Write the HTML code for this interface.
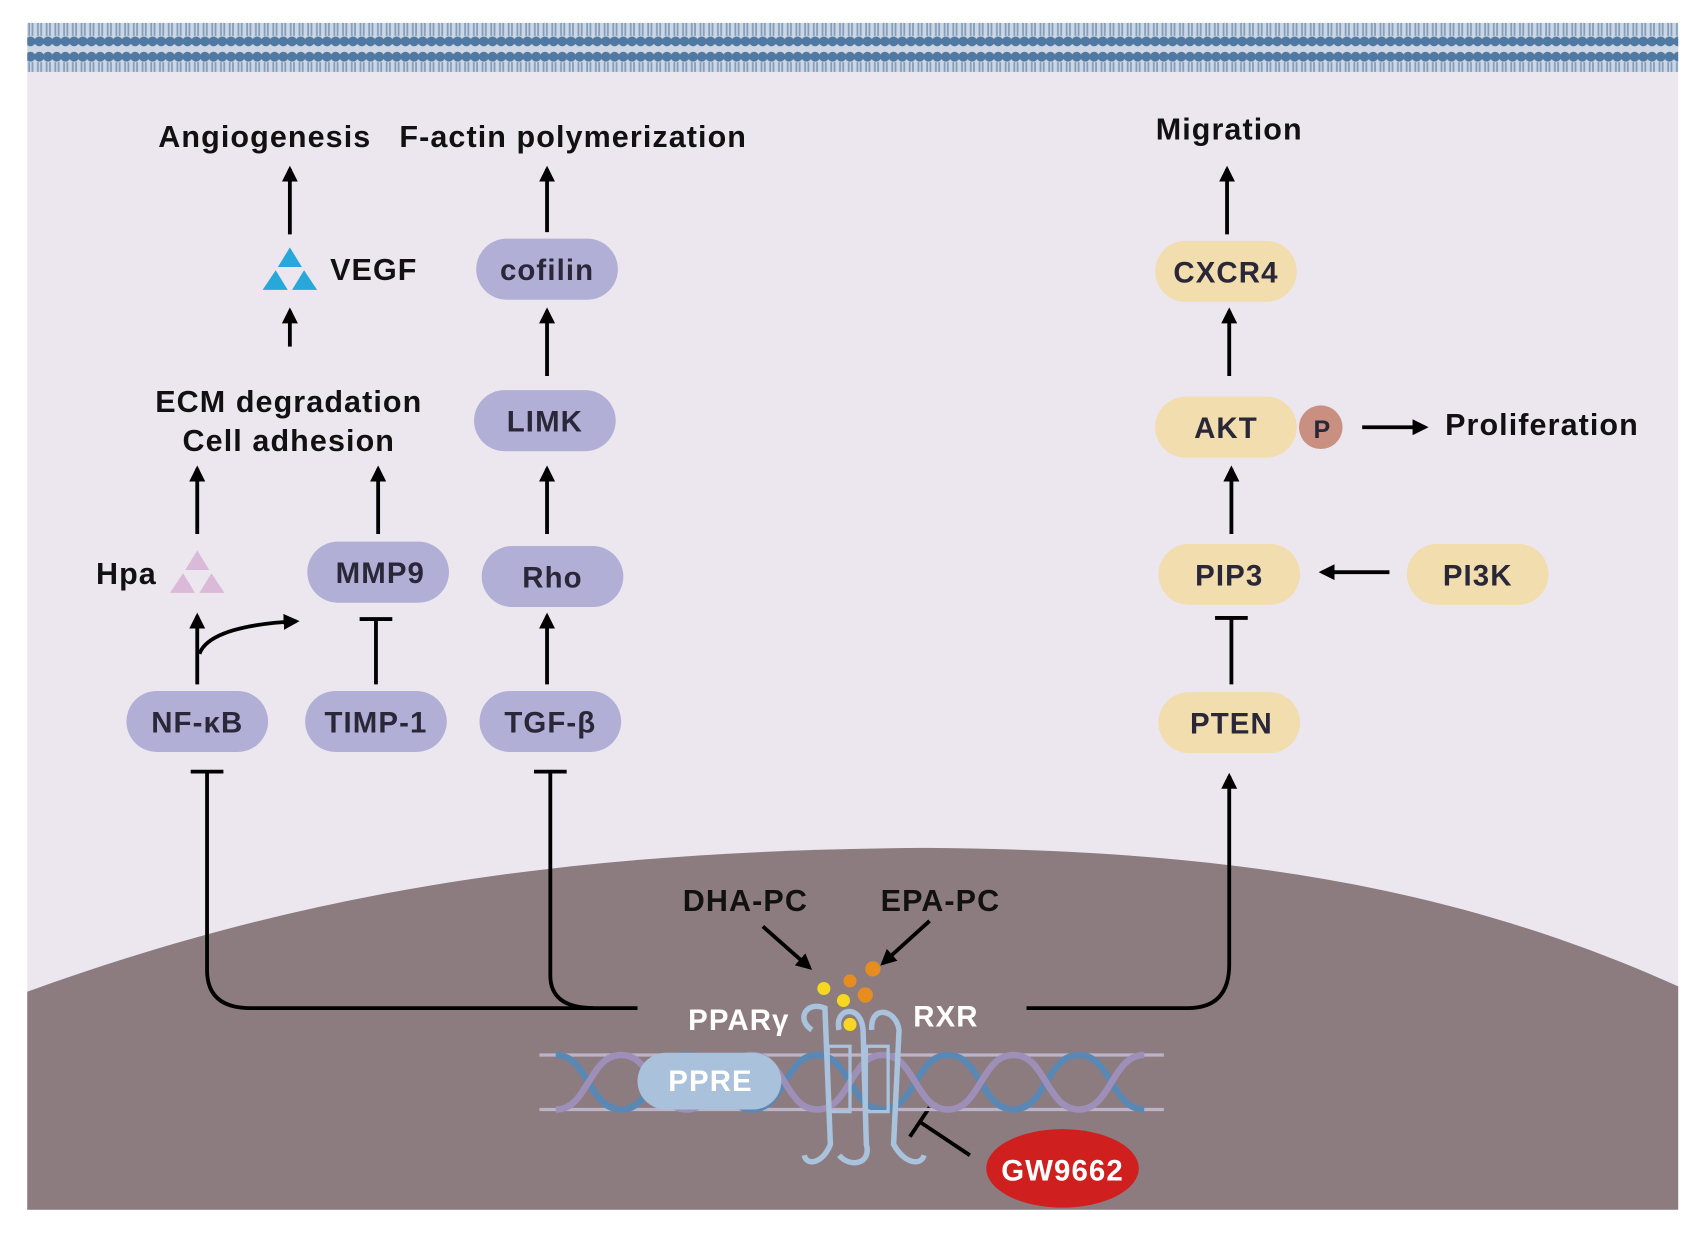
<!DOCTYPE html>
<html><head><meta charset="utf-8"><style>
html,body{margin:0;padding:0;background:#fff;}
svg{display:block;}
text{font-family:"Liberation Sans",sans-serif;font-weight:bold;}
</style></head><body>
<svg width="1700" height="1237" viewBox="0 0 1560 1135" preserveAspectRatio="none" xmlns="http://www.w3.org/2000/svg">
<defs>
<pattern id="mem" width="8" height="45" patternUnits="userSpaceOnUse">
<rect width="8" height="45" fill="#cdd6e2"/>
<circle cx="4" cy="7" r="4.5" fill="#4f79a3"/>
<circle cx="4" cy="38" r="4.5" fill="#4f79a3"/>
<rect x="2" y="12" width="1.6" height="21" fill="#7f9dbd"/>
<rect x="5" y="12" width="1.6" height="21" fill="#7f9dbd"/>
</pattern>
<marker id="ah" viewBox="0 0 10 10" refX="8" refY="5" markerWidth="4.2" markerHeight="4.2" orient="auto"><path d="M0,0 L10,5 L0,10 z" fill="#000"/></marker>
</defs>
<rect x="25" y="25" width="1515" height="1085" fill="#ece7ef"/>
<rect x="25" y="21" width="1515" height="45" fill="url(#mem)"/>
<path d="M25,910 C300,810 550,780 850,778 C1150,780 1350,820 1540,905 L1540,1110 L25,1110 Z" fill="#8c7c80"/>
<g stroke="#000" stroke-width="3.5" fill="none">
<line x1="266" y1="215" x2="266" y2="155" marker-end="url(#ah)"/>
<line x1="266" y1="318" x2="266" y2="285" marker-end="url(#ah)"/>
<line x1="502" y1="213" x2="502" y2="155" marker-end="url(#ah)"/>
<line x1="502" y1="345" x2="502" y2="285" marker-end="url(#ah)"/>
<line x1="181" y1="490" x2="181" y2="430" marker-end="url(#ah)"/>
<line x1="347" y1="490" x2="347" y2="430" marker-end="url(#ah)"/>
<line x1="502" y1="490" x2="502" y2="430" marker-end="url(#ah)"/>
<line x1="181" y1="628" x2="181" y2="565" marker-end="url(#ah)"/>
<path d="M183,600 C190,580 230,572 272,570" marker-end="url(#ah)"/>
<line x1="345" y1="628" x2="345" y2="568"/><line x1="330" y1="568" x2="360" y2="568"/>
<line x1="502" y1="628" x2="502" y2="565" marker-end="url(#ah)"/>
<line x1="175" y1="708" x2="205" y2="708"/>
<path d="M190,708 L190,890 Q190,925 230,925 L585,925"/>
<line x1="490" y1="708" x2="520" y2="708"/>
<path d="M505,708 L505,895 Q505,925 545,925"/>
<path d="M942,925 L1090,925 Q1128,925 1128,885 L1128,712" marker-end="url(#ah)"/>
<line x1="1126" y1="215" x2="1126" y2="155" marker-end="url(#ah)"/>
<line x1="1128" y1="345" x2="1128" y2="285" marker-end="url(#ah)"/>
<line x1="1130" y1="490" x2="1130" y2="430" marker-end="url(#ah)"/>
<line x1="1130" y1="628" x2="1130" y2="567"/><line x1="1115" y1="567" x2="1145" y2="567"/>
<line x1="1275" y1="525" x2="1213" y2="525" marker-end="url(#ah)"/>
<line x1="1250" y1="392" x2="1308" y2="392" marker-end="url(#ah)"/>
<line x1="700" y1="850" x2="743" y2="888" marker-end="url(#ah)"/>
<line x1="853" y1="845" x2="810" y2="884" marker-end="url(#ah)"/>
<line x1="890" y1="1060" x2="845" y2="1030"/><line x1="835" y1="1043" x2="853" y2="1016"/>
</g>
<g fill="#b2afd6">
<rect x="116" y="634" width="130" height="56" rx="28"/>
<rect x="280" y="634" width="130" height="56" rx="28"/>
<rect x="440" y="634" width="130" height="56" rx="28"/>
<rect x="282" y="497" width="130" height="56" rx="28"/>
<rect x="442" y="501" width="130" height="56" rx="28"/>
<rect x="435" y="358" width="130" height="56" rx="28"/>
<rect x="437" y="219" width="130" height="56" rx="28"/>
</g>
<g fill="#f1ddad">
<rect x="1060" y="221" width="130" height="56" rx="28"/>
<rect x="1060" y="364" width="130" height="56" rx="28"/>
<rect x="1063" y="499" width="130" height="56" rx="28"/>
<rect x="1291" y="499" width="130" height="56" rx="28"/>
<rect x="1063" y="635" width="130" height="56" rx="28"/>
</g>
<circle cx="1212" cy="392" r="20" fill="#c98f80"/>
<g font-size="27" fill="#2a2838" text-anchor="middle" letter-spacing="1">
<text x="181" y="672">NF-κB</text>
<text x="345" y="672">TIMP-1</text>
<text x="505" y="672">TGF-β</text>
<text x="349" y="535">MMP9</text>
<text x="507" y="539">Rho</text>
<text x="500" y="396">LIMK</text>
<text x="502" y="257">cofilin</text>
<text x="1125" y="259">CXCR4</text>
<text x="1125" y="402">AKT</text>
<text x="1128" y="537">PIP3</text>
<text x="1356" y="537">PI3K</text>
<text x="1130" y="673">PTEN</text>
<text x="1213" y="402" font-size="23" letter-spacing="0">P</text>
</g>
<g font-size="28" fill="#111" text-anchor="middle" letter-spacing="1">
<text x="243" y="135">Angiogenesis</text>
<text x="526" y="135">F-actin polymerization</text>
<text x="1128" y="128">Migration</text>
<text x="265" y="378">ECM degradation</text>
<text x="265" y="414">Cell adhesion</text>
<text x="343" y="257">VEGF</text>
<text x="116" y="536">Hpa</text>
<text x="1415" y="399">Proliferation</text>
<text x="684" y="836">DHA-PC</text>
<text x="863" y="836">EPA-PC</text>
</g>
<g fill="#27a7da"><path d="M266,227 L277,245 L255,245Z"/><path d="M253,248 L264,266 L241,266Z"/><path d="M279,248 L291,266 L268,266Z"/></g>
<g fill="#dbb9d8"><path d="M181,505 L192,523 L170,523Z"/><path d="M168,526 L179,544 L156,544Z"/><path d="M194,526 L206,544 L183,544Z"/></g>
<g fill="none" stroke-width="6">
<path d="M495,968 L1068,968 M495,1018 L1068,1018" stroke="#bdb3c8" stroke-width="3"/>
<path d="M510,968 C540,968 540,1018 570,1018 C600,1018 600,968 630,968 C660,968 660,1018 690,1018 C720,1018 720,968 750,968 C780,968 780,1018 810,1018 C840,1018 840,968 870,968 C900,968 900,1018 930,1018 C960,1018 960,968 990,968 C1020,968 1020,1018 1050,1018" stroke="#5a88b5"/>
<path d="M510,1018 C540,1018 540,968 570,968 C600,968 600,1018 630,1018 C660,1018 660,968 690,968 C720,968 720,1018 750,1018 C780,1018 780,968 810,968 C840,968 840,1018 870,1018 C900,1018 900,968 930,968 C960,968 960,1018 990,1018 C1020,1018 1020,968 1050,968" stroke="#9d8fb8"/>
</g>
<rect x="585" y="966" width="132" height="52" rx="26" fill="#a9c1da"/>
<text x="652" y="1001" font-size="27" fill="#fff" text-anchor="middle" letter-spacing="1">PPRE</text>
<g fill="none" stroke="#a9c3dd" stroke-width="5">
<path d="M745,945 C730,935 740,918 757,925 L762,1050 C755,1068 740,1070 738,1060"/>
<path d="M770,945 C765,925 790,920 792,945 L795,1050 C800,1068 780,1072 770,1060"/>
<path d="M800,945 C798,922 822,925 825,945 L820,1050 C830,1068 845,1070 848,1060"/>
<path d="M760,960 L780,960 L780,1020 L760,1020Z M795,960 L815,960 L815,1020 L795,1020Z" stroke-width="3"/>
</g>
<g fill="#f7d820"><circle cx="756" cy="907" r="6"/><circle cx="774" cy="918" r="6"/><circle cx="780" cy="940" r="6"/></g>
<g fill="#e58d20"><circle cx="780" cy="900" r="6"/><circle cx="794" cy="913" r="7"/><circle cx="801" cy="889" r="7"/></g>
<text x="678" y="945" font-size="27" fill="#fff" text-anchor="middle" letter-spacing="1">PPARγ</text>
<text x="868" y="942" font-size="27" fill="#fff" text-anchor="middle" letter-spacing="1">RXR</text>
<ellipse cx="975" cy="1072" rx="70" ry="36" fill="#cf1f1f"/>
<text x="975" y="1083" font-size="27" fill="#fff" text-anchor="middle" letter-spacing="1">GW9662</text>
</svg>
</body></html>
